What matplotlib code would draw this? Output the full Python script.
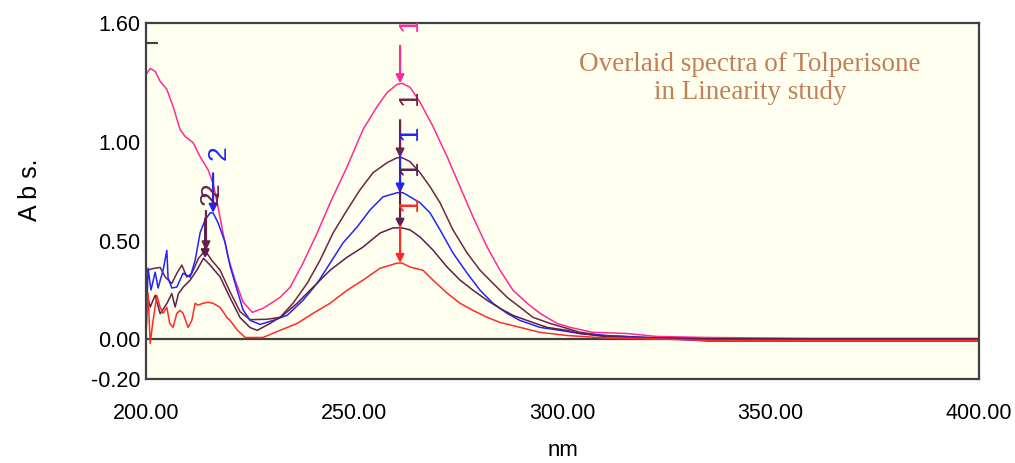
import matplotlib
matplotlib.use("Agg")
import matplotlib.pyplot as plt

plt.rcParams['font.family'] = ['Liberation Sans', 'DejaVu Sans']

# spectra (nm, Abs)
pink_nm = [200.0, 201.0, 202.2, 203.4, 205.0, 206.5, 208.2, 209.4, 211.3, 213.0, 214.9, 216.1,
           217.3, 218.5, 219.7, 221.4, 223.3, 225.5, 228.1, 232.2, 234.6, 237.7, 241.1, 244.2,
           248.3, 252.1, 255.5, 257.9, 260.3, 261.5, 263.4, 265.8, 268.9, 272.3, 275.4, 278.5,
           281.9, 285.0, 288.1, 291.5, 294.6, 298.7, 301.8, 304.2, 307.3, 315.5, 322.7, 334.7,
           360.0, 400.0]
pink_abs = [1.34, 1.37, 1.356, 1.305, 1.265, 1.178, 1.061, 1.026, 0.995, 0.924, 0.858, 0.79,
            0.67, 0.538, 0.416, 0.30, 0.19, 0.137, 0.157, 0.213, 0.264, 0.386, 0.538, 0.69,
            0.874, 1.061, 1.178, 1.249, 1.29, 1.295, 1.275, 1.199, 1.077, 0.924, 0.772, 0.62,
            0.467, 0.35, 0.249, 0.183, 0.132, 0.081, 0.061, 0.05, 0.036, 0.03, 0.015, 0.01,
            0.005, 0.005]

mar1_nm = [200.0, 200.2, 201.8, 203.4, 204.6, 206.2, 207.4, 208.6, 209.8, 211.0, 212.6, 214.2,
           215.8, 217.8, 220.2, 222.6, 225.0, 229.1, 232.2, 235.3, 238.7, 241.8, 244.9, 248.3,
           251.4, 254.5, 257.9, 260.3, 261.5, 263.4, 265.8, 268.2, 270.6, 273.7, 277.1, 280.2,
           283.3, 286.7, 289.8, 292.9, 297.0, 301.1, 304.2, 310.0, 320.0, 335.0, 400.0]
mar1_abs = [0.30, 0.35, 0.359, 0.364, 0.316, 0.283, 0.334, 0.376, 0.316, 0.334, 0.41, 0.45,
            0.40, 0.35, 0.24, 0.14, 0.10, 0.102, 0.112, 0.183, 0.284, 0.401, 0.538, 0.655,
            0.757, 0.843, 0.894, 0.919, 0.919, 0.899, 0.843, 0.772, 0.691, 0.554, 0.437, 0.35,
            0.284, 0.213, 0.163, 0.112, 0.081, 0.056, 0.036, 0.02, 0.01, 0.003, 0.003]

blue_nm = [200.0, 200.5, 201.2, 202.2, 202.9, 204.1, 205.0, 205.3, 206.2, 207.4, 208.9, 210.6,
           211.8, 213.0, 214.2, 215.4, 216.1, 217.3, 219.0, 220.2, 221.8, 223.3, 225.0, 227.4,
           230.5, 233.9, 237.7, 241.1, 244.2, 247.3, 250.7, 253.8, 256.9, 260.3, 261.7, 263.4,
           265.8, 268.2, 270.6, 273.7, 277.1, 280.2, 283.3, 286.7, 289.8, 294.6, 299.4, 304.2,
           310.0, 320.0, 335.0, 400.0]
blue_abs = [0.03, 0.36, 0.25, 0.34, 0.26, 0.35, 0.45, 0.31, 0.26, 0.265, 0.335, 0.315,
            0.40, 0.54, 0.605, 0.64, 0.64, 0.59, 0.49, 0.37, 0.255, 0.15, 0.096, 0.076,
            0.096, 0.122, 0.198, 0.284, 0.386, 0.488, 0.569, 0.655, 0.721, 0.742, 0.742, 0.721,
            0.691, 0.64, 0.554, 0.437, 0.335, 0.249, 0.183, 0.132, 0.096, 0.061, 0.046, 0.03,
            0.02, 0.01, -0.008, -0.008]

mar2_nm = [200.0, 200.2, 201.0, 202.2, 203.4, 205.0, 206.2, 207.0, 207.8, 209.0, 210.6, 212.2,
           213.8, 215.4, 217.8, 220.2, 222.6, 225.0, 226.7, 229.8, 232.9, 236.3, 240.1, 244.2,
           248.3, 252.1, 256.2, 259.3, 261.5, 263.4, 265.8, 268.9, 272.3, 275.4, 278.5, 281.9,
           285.0, 288.1, 291.5, 296.3, 301.1, 304.2, 310.0, 320.0, 335.0, 400.0]
mar2_abs = [0.20, 0.232, 0.164, 0.223, 0.13, 0.181, 0.232, 0.164, 0.232, 0.266, 0.30, 0.35,
            0.41, 0.376, 0.316, 0.21, 0.11, 0.06, 0.046, 0.081, 0.122, 0.183, 0.264, 0.35,
            0.416, 0.467, 0.538, 0.564, 0.564, 0.554, 0.518, 0.452, 0.366, 0.30, 0.249, 0.198,
            0.157, 0.122, 0.096, 0.061, 0.046, 0.03, 0.015, 0.008, 0.003, 0.003]

red_nm = [200.0, 200.2, 200.5, 201.0, 201.7, 202.6, 203.4, 204.1, 205.0, 205.7, 206.5, 207.4,
          208.2, 208.9, 210.1, 211.0, 211.8, 212.5, 213.7, 214.9, 216.1, 217.8, 219.4, 220.2,
          221.8, 223.8, 228.1, 232.2, 236.3, 240.1, 244.2, 248.3, 252.1, 256.2, 260.3, 261.5,
          263.4, 266.5, 268.9, 272.3, 275.4, 278.5, 281.9, 285.0, 289.8, 294.6, 301.1, 310.0,
          320.0, 335.0, 400.0]
red_abs = [0.02, 0.125, 0.234, -0.02, 0.096, 0.223, 0.162, 0.132, 0.162, 0.081, 0.061, 0.132,
           0.147, 0.132, 0.061, 0.096, 0.183, 0.173, 0.183, 0.188, 0.183, 0.162, 0.112, 0.096,
           0.05, 0.01, 0.01, 0.046, 0.081, 0.132, 0.183, 0.249, 0.30, 0.36, 0.386, 0.386,
           0.366, 0.35, 0.30, 0.234, 0.183, 0.147, 0.112, 0.086, 0.061, 0.036, 0.02, 0.008,
           0.004, -0.005, -0.005]

colors = ['#ff2b93', '#6e2446', '#2323ff', '#5c1f4c', '#ff2a2a']

# peak picks (label "1" at main band, "2" at 216 nm band)
peak1_nm = [261.0, 261.0, 261.0, 261.0, 261.0]
peak1_abs = [1.295, 0.919, 0.742, 0.564, 0.386]
peak2_idx = [1, 2, 3]
peak2_nm = [214.4, 216.1, 214.2]
peak2_abs = [0.45, 0.64, 0.41]

fig = plt.figure(figsize=(10.15, 4.63), dpi=100)
ax = fig.add_axes([146 / 1015, 1 - 379 / 463, (979 - 146) / 1015, (379 - 23) / 463])
ax.set_facecolor('#fffff0')

ax.axhline(0, color='#404040', lw=1.6, zorder=1)
series = [(pink_nm, pink_abs), (mar1_nm, mar1_abs), (blue_nm, blue_abs),
          (mar2_nm, mar2_abs), (red_nm, red_abs)]
for (x, y), c in zip(series, colors):
    ax.plot(x, y, color=c, lw=1.1, zorder=2)

lab_off = 0.305
for x, y, c in zip(peak1_nm, peak1_abs, colors):
    ax.annotate('', xy=(x, y), xytext=(x, y + 0.19),
                arrowprops=dict(arrowstyle='-|>', color=c, lw=1.6, mutation_scale=12,
                                shrinkA=0, shrinkB=0), zorder=3)
    ax.text(x - 0.8, y + lab_off, '1', color=c, rotation=90, fontsize=20,
            ha='left', va='center', zorder=4, clip_on=True)
for i, x, y in zip(peak2_idx, peak2_nm, peak2_abs):
    c = colors[i]
    ax.annotate('', xy=(x, y), xytext=(x, y + 0.2),
                arrowprops=dict(arrowstyle='-|>', color=c, lw=1.6, mutation_scale=12,
                                shrinkA=0, shrinkB=0), zorder=3)
    ax.text(x - 1.5, y + lab_off, '2', color=c, rotation=90, fontsize=19,
            ha='left', va='center', zorder=4, clip_on=True)

ax.text(0.725, 0.845, 'Overlaid spectra of Tolperisone\nin Linearity study',
        transform=ax.transAxes, ha='center', va='center', color='#c0805a',
        fontsize=19.5, family='Liberation Serif', linespacing=1.15)

ax.set_xlim(200, 400)
ax.set_ylim(-0.2, 1.6)
ax.set_xticks([200, 250, 300, 350, 400])
ax.set_xticklabels(['200.00', '250.00', '300.00', '350.00', '400.00'])
ax.set_yticks([-0.2, 0.0, 0.5, 1.0, 1.6])
ax.set_yticklabels(['-0.20', '0.00', '0.50', '1.00', '1.60'])
ax.tick_params(axis='both', which='major', length=0, labelsize=15.5)
ax.tick_params(axis='x', which='major', pad=17)
ax.tick_params(axis='y', which='major', pad=4)
ax.set_xticks([250, 300, 350], minor=True)
ax.set_yticks([0.5, 1.0, 1.5], minor=True)
ax.tick_params(axis='x', which='minor', direction='in', length=11.5, width=1.8,
               color='#404040', top=True, bottom=True)
ax.tick_params(axis='y', which='minor', direction='in', length=8.5, width=1.5,
               color='#404040', left=True, right=False)
for s in ax.spines.values():
    s.set_color('#404040')
    s.set_linewidth(1.6)

fig.text(30 / 1015, 1 - 190 / 463, 'A b s.', rotation=90, ha='center', va='center', fontsize=18)
fig.text(563 / 1015, 1 - 450 / 463, 'nm', ha='center', va='center', fontsize=16)

fig.savefig('out.png', dpi=100)
